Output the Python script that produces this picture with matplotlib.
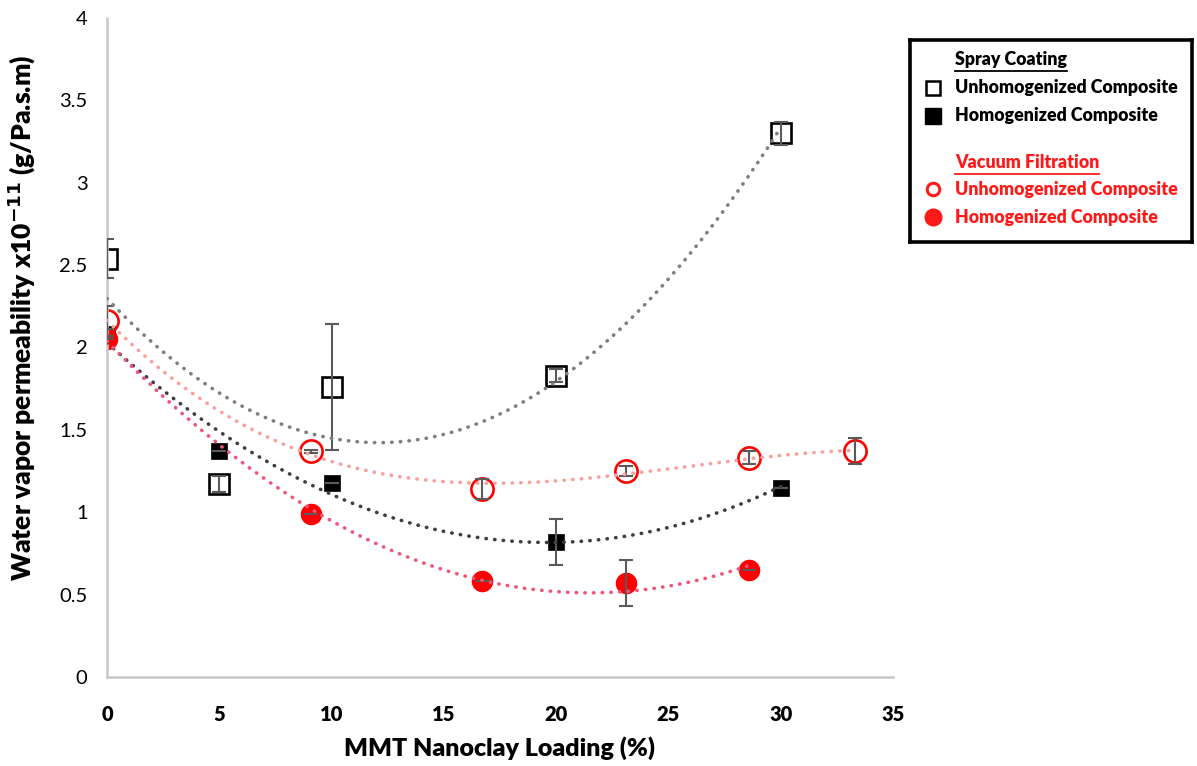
import matplotlib.pyplot as plt
import numpy as np

plt.rcParams['font.family'] = ['Lato', 'DejaVu Sans']

# Spray coating
spray_un_x = [0, 5, 10, 20, 30]
spray_un_y = [2.54, 1.17, 1.76, 1.83, 3.30]
spray_un_err = [0.12, 0.05, 0.38, 0.04, 0.07]

spray_ho_x = [0, 5, 10, 20, 30]
spray_ho_y = [2.08, 1.37, 1.18, 0.82, 1.15]
spray_ho_err = [0.03, 0.0, 0.0, 0.14, 0.0]

# Vacuum filtration
vac_un_x = [0, 9.1, 16.7, 23.1, 28.6, 33.3]
vac_un_y = [2.16, 1.37, 1.14, 1.25, 1.33, 1.37]
vac_un_err = [0.09, 0.01, 0.06, 0.03, 0.04, 0.08]

vac_ho_x = [0, 9.1, 16.7, 23.1, 28.6]
vac_ho_y = [2.05, 0.99, 0.58, 0.57, 0.65]
vac_ho_err = [0.0, 0.0, 0.0, 0.14, 0.0]

fig = plt.figure(figsize=(11.97, 7.66), dpi=100)
ax = fig.add_axes([107 / 1197, 89 / 766, 786 / 1197, 659 / 766])

err_kw = dict(fmt='none', ecolor='#5a5a5a', elinewidth=1.5, capsize=5, capthick=1.5, zorder=3)


def trend(x, y, color, order=2):
    c = np.polyfit(x, y, order)
    xs = np.linspace(0, max(x), 200)
    ax.plot(xs, np.polyval(c, xs), color=color, lw=2.6,
            linestyle=(0, (0.1, 2.3)), dash_capstyle='round', zorder=4)


# markers
ax.plot(spray_un_x, spray_un_y, 's', ms=15, mfc='none', mec='black', mew=1.9, zorder=2)
ax.plot(spray_ho_x, spray_ho_y, 's', ms=11.5, mfc='black', mec='black', mew=0.5, zorder=2)
ax.plot(vac_un_x, vac_un_y, 'o', ms=16, mfc='none', mec='#ff0000', mew=1.9, zorder=2)
ax.plot(vac_ho_x, vac_ho_y, 'o', ms=14.5, mfc='#ff0000', mec='#ff0000', zorder=2)

# error bars
ax.errorbar(spray_un_x, spray_un_y, yerr=spray_un_err, **err_kw)
ax.errorbar(spray_ho_x, spray_ho_y, yerr=spray_ho_err, **err_kw)
ax.errorbar(vac_un_x, vac_un_y, yerr=vac_un_err, **err_kw)
ax.errorbar(vac_ho_x, vac_ho_y, yerr=vac_ho_err, **err_kw)

# polynomial trendlines
trend(spray_un_x, spray_un_y, '#7f7f7f')
trend(spray_ho_x, spray_ho_y, '#3f3f3f')
trend(vac_un_x, vac_un_y, '#f7a29c', order=3)
trend(vac_ho_x, vac_ho_y, '#f0557a')

ax.set_xlim(0, 35)
ax.set_ylim(0, 4)
ax.set_xticks(np.arange(0, 36, 5))
ax.set_yticks(np.arange(0, 4.01, 0.5))
ax.set_yticklabels(['0', '0.5', '1', '1.5', '2', '2.5', '3', '3.5', '4'])
ax.tick_params(axis='both', length=0, labelsize=14.5)
ax.tick_params(axis='x', pad=20)
ax.tick_params(axis='y', pad=14)
plt.setp(ax.get_xticklabels(), fontweight='heavy')
for s in ['top', 'right']:
    ax.spines[s].set_visible(False)
for s in ['left', 'bottom']:
    ax.spines[s].set_color('#c8c8c8')
    ax.spines[s].set_linewidth(1.8)

ax.set_xlabel('MMT Nanoclay Loading (%)', fontsize=18, fontweight='heavy', labelpad=9)
fig.text(22 / 1197, 1 - 318 / 766,
         r'Water vapor permeability x10$^{\mathbf{-11}}$ (g/Pa.s.m)', fontsize=19,
         fontweight='heavy', rotation=90, ha='center', va='center')

# legend panel
lax = fig.add_axes([910 / 1197, 1 - 242 / 766, 282 / 1197, 202 / 766])
lax.set_xlim(0, 282)
lax.set_ylim(202, 0)
lax.set_xticks([])
lax.set_yticks([])
for s in lax.spines.values():
    s.set_linewidth(2.6)
    s.set_color('black')

red = '#ff1a1a'
rows = [
    (20, 'Spray Coating', 'black', None, True),
    (48, 'Unhomogenized Composite', 'black', dict(marker='s', ms=10, mfc='none', mec='black', mew=1.8), False),
    (76, 'Homogenized Composite', 'black', dict(marker='s', ms=11, mfc='black', mec='black'), False),
    (123, 'Vacuum Filtration', red, None, True),
    (149, 'Unhomogenized Composite', red, dict(marker='o', ms=9, mfc='none', mec=red, mew=2.2), False),
    (177, 'Homogenized Composite', red, dict(marker='o', ms=12, mfc=red, mec=red), False),
]
heads = []
for y, txt, col, mk, head in rows:
    t = lax.text(45, y, txt, color=col, fontsize=12.8, fontweight='heavy', va='center', ha='left')
    if mk:
        lax.plot([23], [y], linestyle='none', **mk)
    if head:
        heads.append((t, y, col))

fig.canvas.draw()
inv = lax.transData.inverted()
for t, y, col in heads:
    bb = t.get_window_extent()
    x0 = inv.transform((bb.x0, bb.y0))[0]
    x1 = inv.transform((bb.x1, bb.y0))[0]
    lax.plot([x0, x1], [y + 11, y + 11], color=col, lw=1.3)

fig.savefig('out.png', dpi=100)
